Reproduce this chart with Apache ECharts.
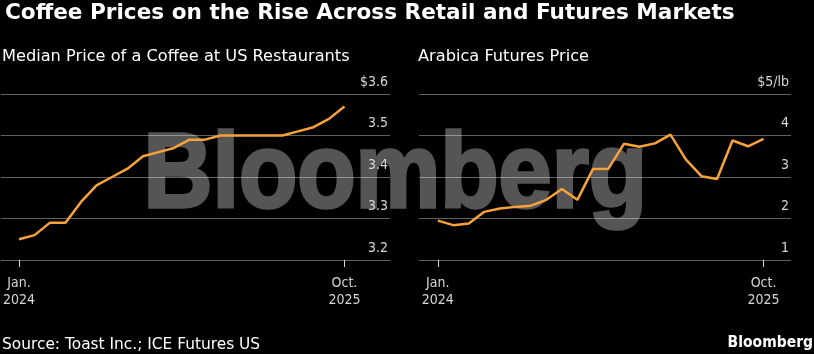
<!DOCTYPE html>
<html>
<head>
<meta charset="utf-8">
<script src="https://cdn.jsdelivr.net/npm/echarts@6/dist/echarts.min.js"></script>
<style>
  html, body { margin: 0; padding: 0; background: #000; }
  #main { width: 814px; height: 354px; }
</style>
</head>
<body>
<div id="main"></div>
<script>
// months Jan 2024 .. Oct 2025, index 0..21
var months = ['Jan 2024','Feb 2024','Mar 2024','Apr 2024','May 2024','Jun 2024','Jul 2024','Aug 2024','Sep 2024','Oct 2024','Nov 2024','Dec 2024',
              'Jan 2025','Feb 2025','Mar 2025','Apr 2025','May 2025','Jun 2025','Jul 2025','Aug 2025','Sep 2025','Oct 2025'];
var coffeePrice = [3.25, 3.26, 3.29, 3.29, 3.34, 3.38, 3.40, 3.42, 3.45, 3.46, 3.47, 3.49,
                   3.49, 3.50, 3.50, 3.50, 3.50, 3.50, 3.51, 3.52, 3.54, 3.57];
var arabicaPrice = [1.95, 1.84, 1.88, 2.16, 2.24, 2.28, 2.31, 2.45, 2.71, 2.45, 3.19, 3.20,
                    3.80, 3.73, 3.81, 4.02, 3.42, 3.02, 2.95, 3.88, 3.74, 3.92];
var xTickIdx = [0, 21];
var xTickText = { 0: 'Jan.\n2024', 21: 'Oct.\n2025' };
var leftTicks = { 3.6: '$3.6', 3.5: '3.5', 3.4: '3.4', 3.3: '3.3', 3.2: '3.2' };
var rightTicks = { 5: '$5/lb', 4: '4', 3: '3', 2: '2', 1: '1' };

var font = 'DejaVu Sans';
var fontCond = 'DejaVu Sans Condensed';
var lineColor = '#f7a33a';
var gridColor = 'rgba(255,255,255,0.38)';
var labelColor = '#d6d6d6';

function toPairs(arr) {
    return arr.map(function (v, i) { return [i, v]; });
}

function xAxisCfg(gi, min, max) {
    return {
        type: 'value', gridIndex: gi, min: min, max: max,
        splitLine: { show: false },
        axisLine: { show: false },
        axisTick: { show: true, customValues: xTickIdx, length: 7, lineStyle: { color: labelColor, width: 1 } },
        axisLabel: {
            customValues: xTickIdx, color: labelColor, fontFamily: fontCond, fontSize: 14,
            lineHeight: 17, margin: 15,
            formatter: function (v) { return xTickText[v] || ''; }
        }
    };
}

function yAxisCfg(gi, min, max, step, labels) {
    return {
        type: 'value', gridIndex: gi, position: 'right', min: min, max: max, interval: step,
        axisLine: { show: false },
        axisTick: { show: false },
        splitLine: { show: true, lineStyle: { color: gridColor, width: 1 } },
        axisLabel: {
            inside: true, margin: 2, color: labelColor, fontFamily: fontCond, fontSize: 14,
            verticalAlign: 'bottom', padding: [0, 0, 5, 0],
            formatter: function (v) { return labels[Math.round(v * 10) / 10] || ''; }
        }
    };
}

var myChart = echarts.init(document.getElementById('main'));
var option = {
    backgroundColor: '#000',
    animation: false,
    title: [
        { text: 'Coffee Prices on the Rise Across Retail and Futures Markets', left: 5, top: 2, padding: 0,
          textStyle: { color: '#fff', fontFamily: font, fontWeight: 'bold', fontSize: 21.6 } },
        { text: 'Median Price of a Coffee at US Restaurants', left: 2, top: 49, padding: 0,
          textStyle: { color: '#fff', fontFamily: font, fontWeight: 'normal', fontSize: 16.2 } },
        { text: 'Arabica Futures Price', left: 418, top: 49, padding: 0,
          textStyle: { color: '#fff', fontFamily: font, fontWeight: 'normal', fontSize: 16.2 } },
        { text: 'Source: Toast Inc.; ICE Futures US', left: 2, top: 337, padding: 0,
          textStyle: { color: '#fff', fontFamily: font, fontWeight: 'normal', fontSize: 15.4 } },
        { text: 'Bloomberg', right: 1, top: 335, padding: 0,
          textStyle: { color: '#fff', fontFamily: fontCond, fontWeight: 'bold', fontSize: 15.5 } }
    ],
    graphic: [{
        type: 'text', z: -10, left: 142, top: 123,
        scaleX: 0.9,
        style: { text: 'Bloomberg', font: 'bold 106px "Liberation Sans"', fill: '#555555',
                 stroke: '#555555', lineWidth: 3.5 }
    }],
    grid: [
        { left: 0, width: 390, top: 94, height: 166 },
        { left: 419, width: 372, top: 94, height: 166 }
    ],
    xAxis: [xAxisCfg(0, -1.18, 23.94), xAxisCfg(1, -1.21, 22.77)],
    yAxis: [yAxisCfg(0, 3.2, 3.6, 0.1, leftTicks), yAxisCfg(1, 1, 5, 1, rightTicks)],
    series: [
        { type: 'line', xAxisIndex: 0, yAxisIndex: 0, data: toPairs(coffeePrice), showSymbol: false,
          lineStyle: { color: lineColor, width: 2.5 }, z: 5 },
        { type: 'line', xAxisIndex: 1, yAxisIndex: 1, data: toPairs(arabicaPrice), showSymbol: false,
          lineStyle: { color: lineColor, width: 2.5 }, z: 5 }
    ]
};
myChart.setOption(option);
</script>
</body>
</html>
